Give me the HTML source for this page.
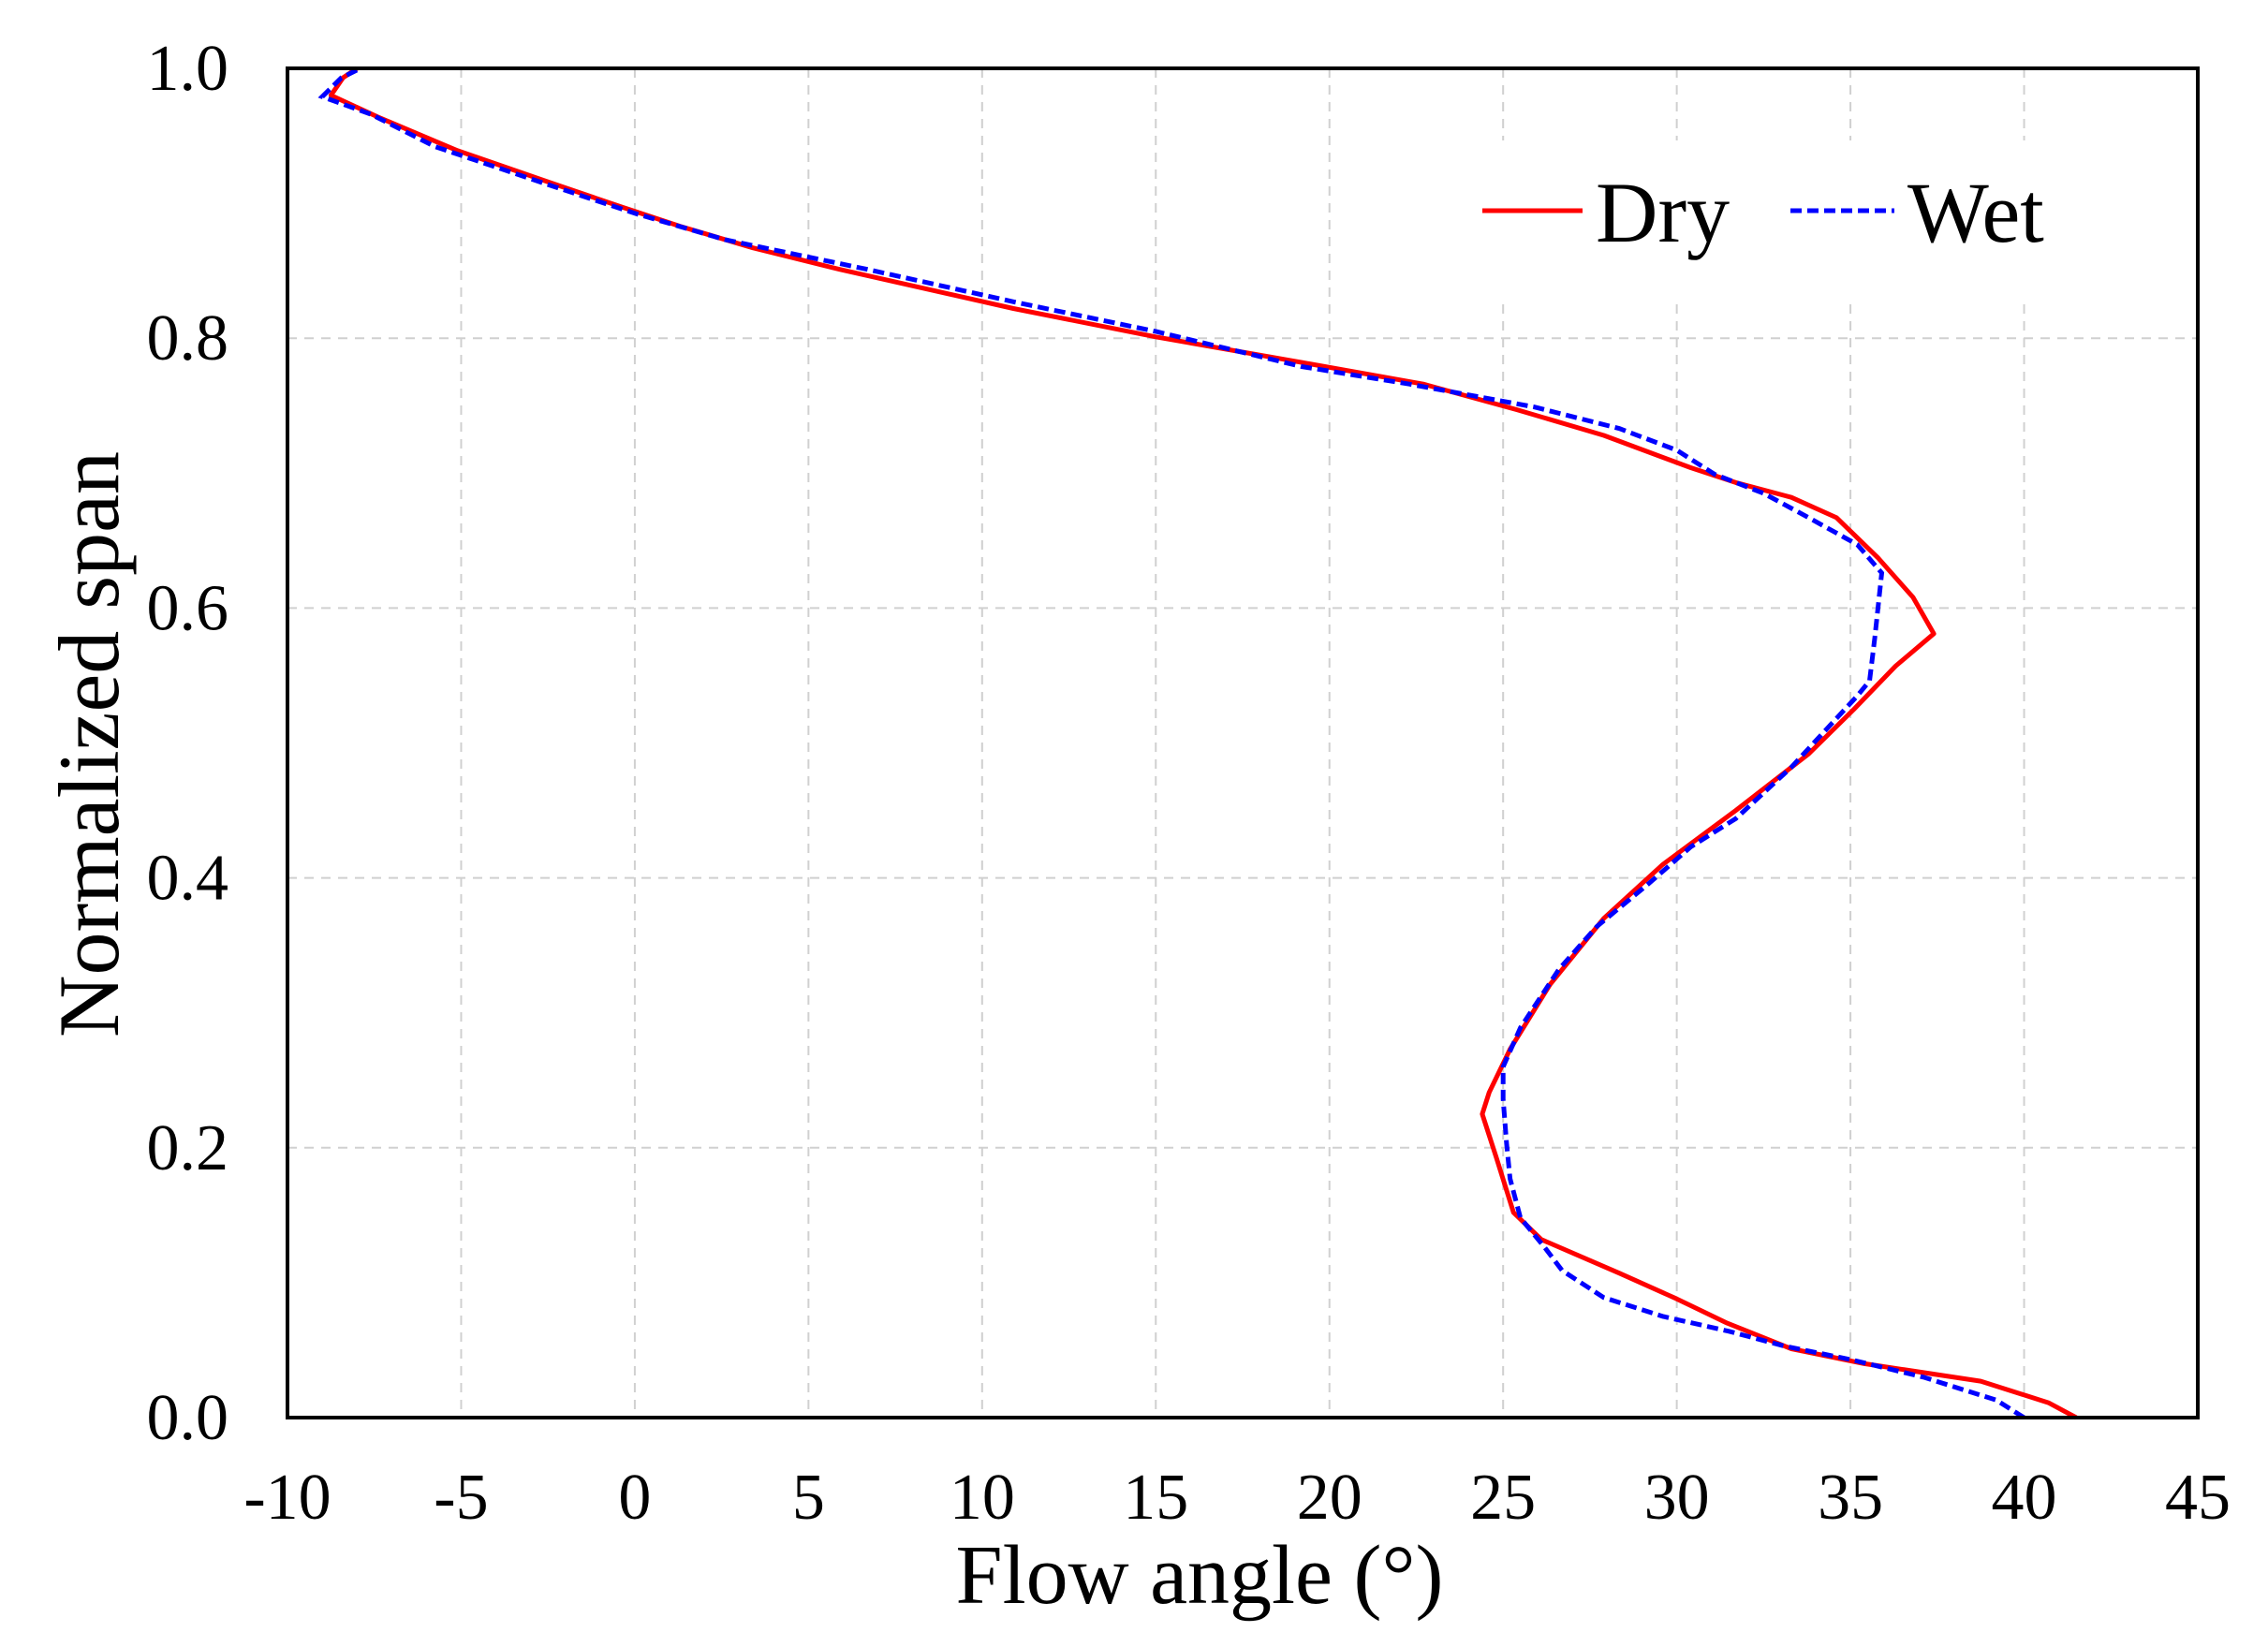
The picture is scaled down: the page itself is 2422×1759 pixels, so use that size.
<!DOCTYPE html>
<html><head><meta charset="utf-8"><style>
html,body{margin:0;padding:0;background:#fff;}
svg{display:block;font-family:"Liberation Serif",serif;}
</style></head><body>
<svg id="chart" width="2422" height="1759" viewBox="0 0 2422 1759" xmlns="http://www.w3.org/2000/svg">
<g id="grid"></g>
<rect x="1553" y="150" width="690" height="168" fill="#fff"/>
<g id="series"></g>
<rect x="307" y="73" width="2040" height="1441" fill="none" stroke="#000" stroke-width="4"/>
<g id="ticks" font-size="70" fill="#000"></g>
<text x="1281" y="1712" font-size="90" text-anchor="middle">Flow angle (°)</text>
<text transform="translate(126,795) rotate(-90)" font-size="92" text-anchor="middle">Normalized span</text>
<g>
<line x1="1583" y1="225" x2="1690" y2="225" stroke="#ff0000" stroke-width="5"/>
<text x="1704" y="258" font-size="92">Dry</text>
<line x1="1912" y1="225" x2="2023" y2="225" stroke="#0000ff" stroke-width="5" stroke-dasharray="12,6"/>
<text x="2037" y="258" font-size="92">Wet</text>
</g>
</svg>
<script>
const xTicks = [-10,-5,0,5,10,15,20,25,30,35,40,45];
const yTicks = [0,0.2,0.4,0.6,0.8,1.0];
const yTickLabels = ["0.0","0.2","0.4","0.6","0.8","1.0"];
const dryAngle = [41.5,40.7,38.75,35.4,33.3,31.45,30.0,28.35,26.1,25.3,24.8,24.4,24.6,25.2,26.35,27.9,29.6,31.7,33.8,35.1,36.3,37.4,36.8,35.8,34.6,33.3,31.7,30.4,27.9,25.4,22.7,19.2,15.0,10.9,5.9,3.4,1.3,-0.35,-2.4,-5.1,-7.4,-8.75,-8.4,-8.0];
const drySpan = [0,0.011,0.027,0.04,0.051,0.07,0.088,0.107,0.132,0.152,0.193,0.225,0.241,0.273,0.321,0.37,0.41,0.45,0.492,0.525,0.557,0.581,0.608,0.637,0.667,0.682,0.693,0.704,0.728,0.747,0.766,0.782,0.801,0.822,0.851,0.867,0.883,0.897,0.915,0.939,0.964,0.98,0.993,1.0];
const wetAngle = [40.0,39.2,37.1,35.0,33.1,31.5,29.6,27.9,26.7,26.2,25.5,25.2,25.1,25.0,25.0,25.5,26.6,27.7,29.2,30.4,31.7,33.3,35.2,35.55,35.7,35.9,35.2,33.8,32.5,31.1,30.0,28.35,25.9,22.3,19.2,15.0,10.9,6.7,2.6,0.07,-2.4,-5.75,-7.6,-9.0,-8.45,-7.9];
const wetSpan = [0,0.013,0.03,0.043,0.053,0.064,0.075,0.089,0.109,0.126,0.148,0.177,0.203,0.236,0.26,0.289,0.332,0.364,0.396,0.423,0.444,0.482,0.535,0.546,0.578,0.626,0.647,0.667,0.685,0.699,0.717,0.733,0.749,0.766,0.779,0.805,0.827,0.851,0.873,0.892,0.913,0.942,0.966,0.979,0.993,1.0];

const L=307,R=2347,T=73,B=1514;
const xs=v=>L+(v+10)/55*(R-L);
const ys=v=>B-v*(B-T);
const NS="http://www.w3.org/2000/svg";
const grid=document.getElementById('grid'), ticks=document.getElementById('ticks'), series=document.getElementById('series');
function mk(tag,attrs){const e=document.createElementNS(NS,tag);for(const k in attrs)e.setAttribute(k,attrs[k]);return e;}
xTicks.forEach(v=>{
  if(v>-10&&v<45){const g=mk('line',{x1:xs(v),x2:xs(v),y1:T,y2:B,stroke:'#d0d0d0','stroke-width':2,'stroke-dasharray':'10,8'});
  
  
  grid.appendChild(g);}
  const t=mk('text',{x:xs(v),y:1622,'text-anchor':'middle'});t.textContent=String(v);
  
  
  ticks.appendChild(t);
});
yTicks.forEach((v,i)=>{
  if(v>0&&v<1){const g=mk('line',{x1:L,x2:R,y1:ys(v),y2:ys(v),stroke:'#d0d0d0','stroke-width':2,'stroke-dasharray':'10,8'});
  
  
  grid.appendChild(g);}
  const t=mk('text',{x:244,y:ys(v)+23,'text-anchor':'end'});t.textContent=yTickLabels[i];
  
  
  ticks.appendChild(t);
});
function path(a,s){return a.map((v,i)=>(i?'L':'M')+xs(v).toFixed(1)+','+ys(s[i]).toFixed(1)).join(' ');}
const dry=mk('path',{d:path(dryAngle,drySpan),fill:'none',stroke:'#ff0000','stroke-width':5,'stroke-linejoin':'round'});


series.appendChild(dry);
const wet=mk('path',{d:path(wetAngle,wetSpan),fill:'none',stroke:'#0000ff','stroke-width':5,'stroke-dasharray':'12,6'});


series.appendChild(wet);
</script>
</body></html>
